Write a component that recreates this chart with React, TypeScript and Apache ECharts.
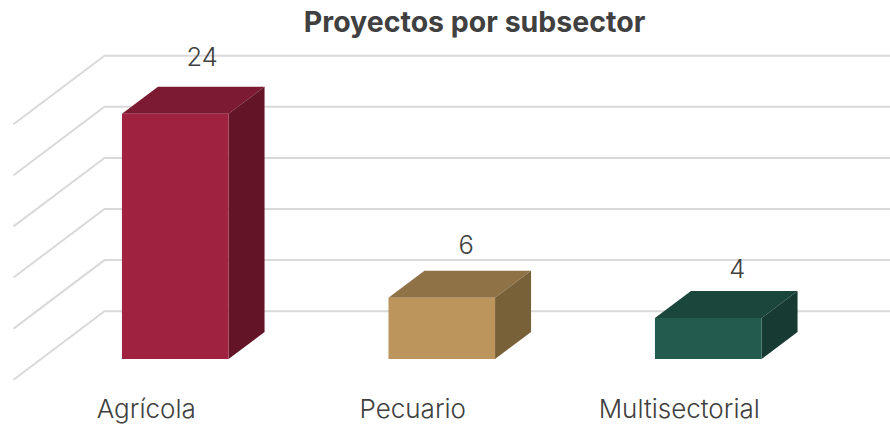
import React, { useEffect, useRef } from "react";
import * as echarts from "echarts";

const titleText = "Proyectos por subsector";
const categories = ["Agrícola", "Pecuario", "Multisectorial"];
const values = [24, 6, 4];
const ticks = [0, 5, 10, 15, 20, 25];
const frontColors = ["#9F2241", "#BC955C", "#235B4E"];
const topColors = ["#7B1A31", "#8F7246", "#1B463C"];
const sideColors = ["#631427", "#786039", "#173A32"];

const FONT = "Inter";
const DX = 36;
const DY = 27;
const labelShift: [number, number][] = [[27, 57], [24.5, 53], [29, 50]];

export default function App() {
  const ref = useRef<HTMLDivElement>(null);
  useEffect(() => {
    document.body.style.margin = "0";
    const chart = echarts.init(ref.current!, undefined, { renderer: "svg" });
    chart.setOption({
      animation: false,
      backgroundColor: "#ffffff",
      title: {
        text: titleText,
        left: 469.5,
        top: 2,
        textAlign: "center",
        textStyle: { fontFamily: FONT, fontSize: 28.5, fontWeight: 700, color: "#404040" },
      },
      grid: { left: 42, right: 48.5, top: 103.5, bottom: 65 },
      xAxis: {
        type: "category",
        data: categories,
        axisLine: { show: false },
        axisTick: { show: false },
        axisLabel: {
          fontFamily: FONT,
          fontSize: 26,
          fontWeight: 300,
          color: "#404040",
          margin: 36,
          padding: [0, 58, 0, 0],
          interval: 0,
        },
      },
      yAxis: { type: "value", min: 0, max: 25, interval: 5, show: false },
      series: [
        {
          type: "custom",
          coordinateSystem: "cartesian2d",
          silent: true,
          z: 1,
          data: ticks.map((t) => [0, t]),
          encode: { x: 0, y: 1 },
          clip: false,
          renderItem: (_p: any, api: any) => {
            const y = api.coord([0, api.value(1)])[1] - 47.8;
            return {
              type: "polyline",
              shape: { points: [[13.5, y + 68.5], [104.5, y], [890, y]] },
              style: { fill: "none", stroke: "#D9D9D9", lineWidth: 2 },
            };
          },
        },
        {
          type: "custom",
          coordinateSystem: "cartesian2d",
          silent: true,
          z: 2,
          clip: false,
          data: values.map((v, i) => [i, v]),
          encode: { x: 0, y: 1 },
          renderItem: (p: any, api: any) => {
            const i = p.dataIndex;
            const top = api.coord([i, api.value(1)]);
            const base = api.coord([i, 0]);
            const w = api.size([1, 0])[0] * 0.4;
            const l = top[0] - w / 2;
            const r = top[0] + w / 2;
            const [sx, sy] = labelShift[i];
            return {
              type: "group",
              children: [
                {
                  type: "polygon",
                  shape: { points: [[l, top[1]], [l + DX, top[1] - DY], [r + DX, top[1] - DY], [r, top[1]]] },
                  style: { fill: topColors[i] },
                },
                {
                  type: "polygon",
                  shape: { points: [[r, top[1]], [r + DX, top[1] - DY], [r + DX, base[1] - DY], [r, base[1]]] },
                  style: { fill: sideColors[i] },
                },
                {
                  type: "rect",
                  shape: { x: l, y: top[1], width: w, height: base[1] - top[1] },
                  style: { fill: frontColors[i] },
                },
                {
                  type: "text",
                  x: top[0] + sx,
                  y: top[1] - sy,
                  style: {
                    text: String(values[i]),
                    fontFamily: FONT,
                    fontSize: 25.5,
                    fontWeight: 300,
                    fill: "#404040",
                    align: "center",
                    verticalAlign: "middle",
                  },
                },
              ],
            };
          },
        },
      ],
    });
    return () => chart.dispose();
  }, []);
  return <div ref={ref} style={{ width: 890, height: 424 }} />;
}
